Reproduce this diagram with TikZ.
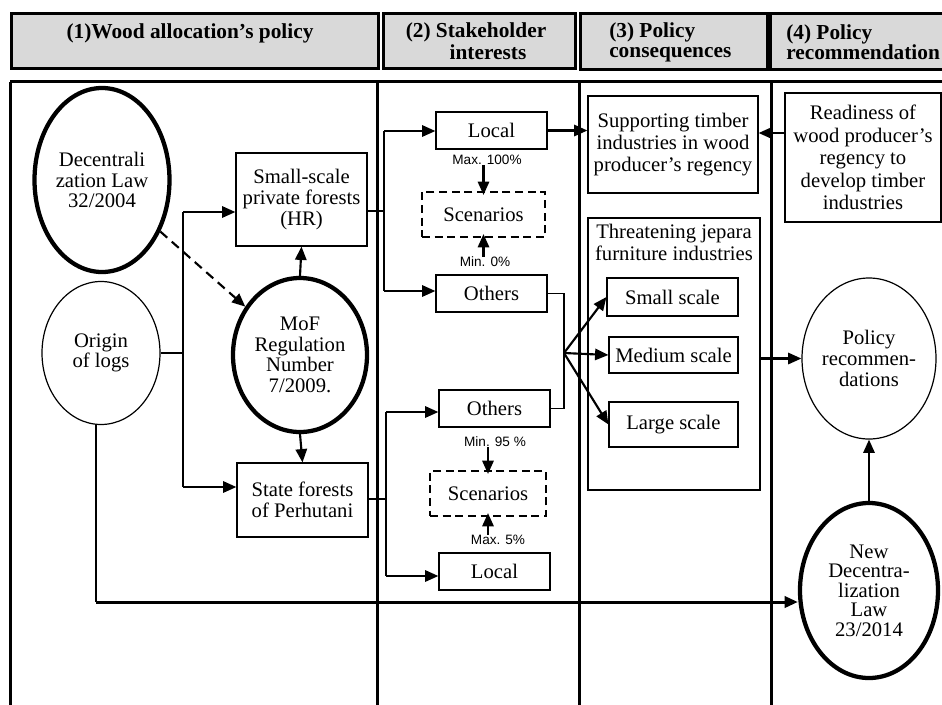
\documentclass[tikz,border=0pt]{standalone}
\usepackage{fontspec}
\setmainfont{Liberation Serif}
\newfontfamily\labfont{Liberation Sans}
\usetikzlibrary{arrows.meta,shapes.geometric}
\definecolor{hdrgray}{RGB}{217,217,217}
\begin{document}
\begin{tikzpicture}[x=0.75pt,y=-0.75pt,
  txt/.style={font=\fontsize{15.5}{15.5}\selectfont, align=center, inner sep=0.5pt},
  box/.style={txt, draw, line width=0.9pt, rectangle},
  dbox/.style={txt, draw, line width=1.6pt, dash pattern=on 6pt off 3.5pt, rectangle},
  thinell/.style={txt, draw, ellipse, line width=0.9pt, inner sep=0pt},
  thickell/.style={txt, draw, ellipse, line width=3.2pt, inner sep=0pt},
  hdr/.style={draw, line width=2.25pt, fill=hdrgray, inner sep=0pt},
  htxt/.style={font=\fontsize{16}{15}\selectfont\bfseries, inner sep=0pt, align=left},
  lab/.style={font=\labfont\fontsize{10.2}{11}\selectfont, inner sep=0pt},
  arr/.style={line width=1.6pt, -{Triangle[length=10pt,width=8.5pt]}},
  conn/.style={line width=0.9pt},
  conn2/.style={line width=1.5pt},
  frame/.style={line width=2.25pt}
]
\useasboundingbox (0,0) rectangle (942,704);
\fill[white] (0,0) rectangle (942,704);

% headers
\node[hdr, minimum width=275.25pt, minimum height=41.25pt] (h1) at (194.5,40.5) {};
\node[hdr, minimum width=144pt, minimum height=41.25pt] (h2) at (479,40.5) {};
\node[hdr, minimum width=140.25pt, minimum height=42pt] (h3) at (673.5,41) {};
\node[hdr, minimum width=135pt, minimum height=42pt] (h4) at (860,41) {};
\node[htxt] (h1t) at (190,33) {(1)Wood allocation’s policy};
\node[htxt] (h2t) at (476,32) {(2) Stakeholder};
\node[htxt] (h2u) at (488,52) {interests};
\node[htxt, anchor=west] (h3t) at (609,42) {(3) Policy\\consequences};
\node[htxt, anchor=west] (h4t) at (786,42) {(4) Policy\\recommendation};

% frame
\draw[frame] (10,81.5) -- (950,81.5);
\draw[frame] (10,81.5) -- (10,710);
\draw[frame] (377,81.5) -- (377,710);
\draw[frame] (579,81.5) -- (579,710);
\draw[frame] (771,81.5) -- (771,710);

% column 1
\node[thickell, minimum width=101.25pt, minimum height=138pt] (dec) at (102,180) {Decentrali\\zation Law\\32/2004};
\node[thinell, minimum width=88.5pt, minimum height=107.25pt] (origin) at (101,353) {Origin\\of logs};
\node[thickell, minimum width=100.5pt, minimum height=115.5pt] (mof) at (300,355) {MoF\\Regulation\\Number\\7/2009.};
\node[box, minimum width=98.25pt, minimum height=69.75pt] (hr) at (301.5,199.5) {Small-scale\\private forests\\(HR)};
\node[box, minimum width=98.25pt, minimum height=55.5pt] (state) at (302.5,500) {State forests\\of Perhutani};

% column 2
\node[box, minimum width=83.25pt, minimum height=27.75pt] (local1) at (491.5,130.5) {Local};
\node[dbox, minimum width=92.25pt, minimum height=33.75pt] (scen1) at (483.5,214.5) {Scenarios};
\node[box, minimum width=83.25pt, minimum height=27.75pt] (others1) at (491.5,293.5) {Others};
\node[box, minimum width=83.25pt, minimum height=27.75pt] (others2) at (494.5,408.5) {Others};
\node[dbox, minimum width=87pt, minimum height=33.75pt] (scen2) at (488,493.5) {Scenarios};
\node[box, minimum width=83.25pt, minimum height=27.75pt] (local2) at (494.5,571.5) {Local};
\node[lab] (max100) at (487,160) {Max. 100\%};
\node[lab] (min0) at (485,262) {Min. 0\%};
\node[lab] (min95) at (495,442) {Min. 95 \%};
\node[lab] (max5) at (498,540) {Max. 5\%};

% column 3
\node[box, minimum width=127.5pt, minimum height=72.75pt, font=\fontsize{15.5}{16.5}\selectfont] (support) at (673,144.5) {Supporting timber\\industries in wood\\producer’s regency};
\node[box, minimum width=129pt, minimum height=204pt] (threat) at (674,354) {};
\node[txt, anchor=north, font=\fontsize{15.5}{16.5}\selectfont] (threattitle) at ([yshift=-4pt]threat.north) {Threatening jepara\\furniture industries};
\node[box, minimum width=98.25pt, minimum height=28.5pt] (small) at (672.5,297) {Small scale};
\node[box, minimum width=96.75pt, minimum height=27pt] (medium) at (673.5,355) {Medium scale};
\node[box, minimum width=96.75pt, minimum height=33.75pt] (large) at (673.5,424.5) {Large scale};

% column 4
\node[box, minimum width=117pt, minimum height=96.75pt, font=\fontsize{15.5}{16.8}\selectfont] (ready) at (863,157.5) {Readiness of\\wood producer’s\\regency to\\develop timber\\industries};
\node[thinell, minimum width=100.5pt, minimum height=120.75pt] (polrec) at (869,358.5) {Policy\\recommen-\\dations};
\node[thickell, minimum width=103.5pt, minimum height=131.25pt, font=\fontsize{15.5}{14.6}\selectfont] (newdec) at (869,590.5) {New\\Decentra-\\lization\\Law\\23/2014};

% column 1 connectors
\coordinate (j1) at (183,212);
\coordinate (j2) at (183,487);
\coordinate (jo) at (183,353);
\draw[conn] (origin.east) -- (jo);
\draw[conn] (j1) -- (j2);
\draw[arr] (j1) -- (j1 -| hr.west);
\draw[arr] (j2) -- (j2 -| state.west);
\draw[arr, dash pattern=on 7pt off 4.5pt] (dec) -- (mof);
\draw[arr] (mof.north) -- (hr.south);
\draw[arr] (mof.south) -- (state.north);

% column 2 connectors
\coordinate (t1) at (384,211);
\coordinate (v1a) at (384,131);
\coordinate (v1b) at (384,291);
\draw[conn] (t1 -| hr.east) -- (t1);
\draw[conn2] (v1a) -- (v1b);
\draw[arr] (v1a) -- (v1a -| local1.west);
\draw[arr] (v1b) -- (v1b -| others1.west);
\coordinate (t2) at (386,499);
\coordinate (v2a) at (386,412);
\coordinate (v2b) at (386,576);
\draw[conn] (t2 -| state.east) -- (t2);
\draw[conn2] (v2a) -- (v2b);
\draw[arr] (v2a) -- (v2a -| others2.west);
\draw[arr] (v2b) -- (v2b -| local2.west);
\draw[arr] (max100.south -| scen1.north) -- ([yshift=-3pt]scen1.north);
\draw[arr] (min0.north -| scen1.south) -- ([yshift=3pt]scen1.south);
\draw[arr] (min95.south -| scen2.north) -- ([yshift=-3pt]scen2.north);
\draw[arr] (max5.north -| scen2.south) -- ([yshift=3pt]scen2.south);

% to column 3
\draw[arr] (local1.east) -- (local1.east -| support.west);
\coordinate (fan) at (564,353);
\draw[conn] (others1.east) -| (fan);
\draw[conn] (fan) |- (others2.east);
\draw[arr] (fan) -- (small.west);
\draw[arr] (fan) -- (medium.west);
\draw[arr] (fan) -- (large.west);

% column 4 connectors
\coordinate (ra) at (785,133);
\draw[arr] (ra) -- (ra -| support.east);
\draw[arr] (threat.east |- polrec.west) -- (polrec.west);
\draw[arr] (newdec.north) -- (polrec.south);
\coordinate (ob) at (96,602);
\draw[conn] (ob |- origin.south) -- (ob);
\draw[arr, line width=2.25pt] (ob) -- (ob -| newdec.west);
\end{tikzpicture}
\end{document}
